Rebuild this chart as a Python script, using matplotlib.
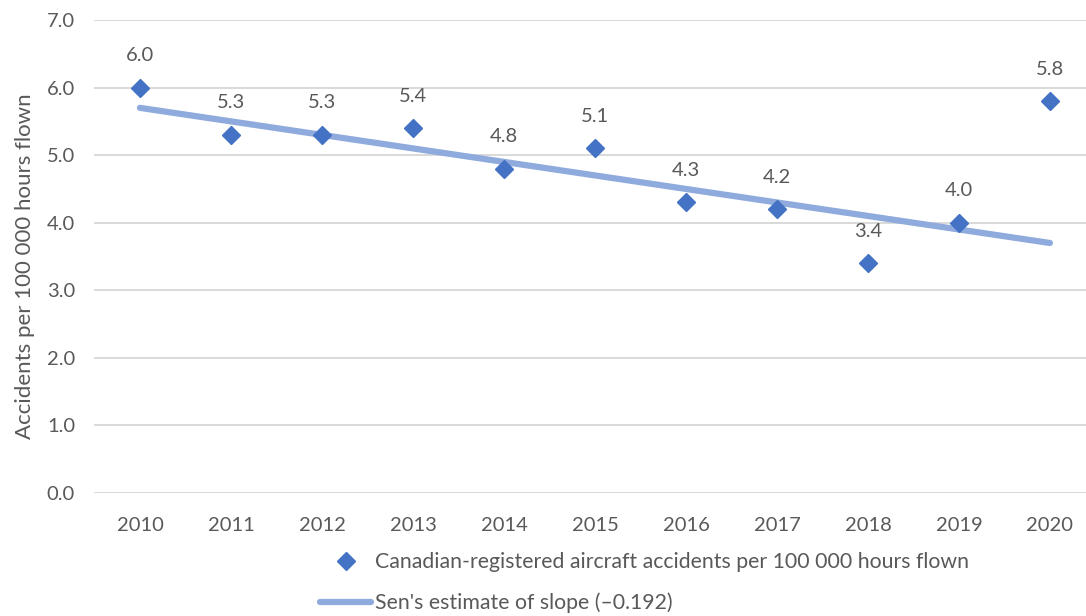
import matplotlib.pyplot as plt
from matplotlib.lines import Line2D

plt.rcParams['font.family'] = ['Lato', 'DejaVu Sans']

# Accident rate per 100 000 hours flown, Canadian-registered aircraft
years = [2010, 2011, 2012, 2013, 2014, 2015, 2016, 2017, 2018, 2019, 2020]
rates = [6.0, 5.3, 5.3, 5.4, 4.8, 5.1, 4.3, 4.2, 3.4, 4.0, 5.8]

# Sen's slope trend line end points
trend_years = [2010, 2020]
trend_values = [5.70, 3.70]

y_ticks = [0.0, 1.0, 2.0, 3.0, 4.0, 5.0, 6.0, 7.0]

text_color = '#595959'
point_color = '#4472C4'
trend_color = '#8FAADC'

fig = plt.figure(figsize=(10.86, 6.16), dpi=100)
ax = fig.add_axes([0.087, 0.1997, 0.9217, 0.7678])

ax.plot(trend_years, trend_values, color=trend_color, linewidth=4.5,
        solid_capstyle='round', zorder=2)
ax.plot(years, rates, linestyle='none', marker='D', markersize=8.8,
        color=point_color, zorder=3)

for x, v in zip(years, rates):
    ax.annotate(f'{v:.1f}', (x, v), xytext=(0, 23), textcoords='offset points',
                ha='center', va='center', fontsize=14.5, color=text_color)

ax.set_xlim(years[0] - 0.5, years[-1] + 0.5)
ax.set_ylim(0, 7)
ax.set_xticks(years)
ax.set_xticklabels([str(y) for y in years])
ax.set_yticks(y_ticks)
ax.set_yticklabels([f'{t:.1f}' for t in y_ticks])
ax.tick_params(length=0, labelsize=14.5, colors=text_color)
ax.tick_params(axis='x', pad=17)
ax.tick_params(axis='y', pad=14)

ax.grid(axis='y', color='#D0D0D0', linewidth=1.1)
ax.set_axisbelow(True)
for s in ax.spines.values():
    s.set_visible(False)

ax.set_ylabel('Accidents per 100 000 hours flown', fontsize=16,
              color=text_color, labelpad=6)
ax.yaxis.set_label_coords(-0.059, 0.48)

handles = [
    Line2D([], [], linestyle='none', marker='D', markersize=8.8, color=point_color),
    Line2D([], [], color=trend_color, linewidth=4.5, solid_capstyle='round'),
]
labels = ['Canadian-registered aircraft accidents per 100 000 hours flown',
          "Sen's estimate of slope (\u2013" + '0.192)']
fig.legend(handles, labels, loc='center left', bbox_to_anchor=(0.2947, 0.054),
           frameon=False, fontsize=15.3, labelcolor=text_color,
           handlelength=2.4, handletextpad=0.2, labelspacing=0.95,
           borderaxespad=0, borderpad=0)

fig.savefig('out.png', dpi=100)
